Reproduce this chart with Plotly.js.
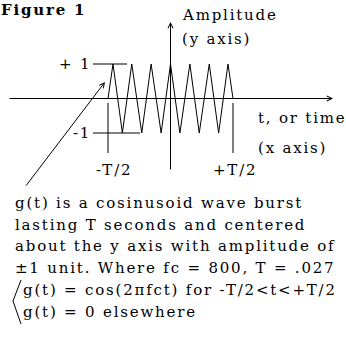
<!DOCTYPE html>
<html>
<head>
<meta charset="utf-8">
<script src="https://cdn.plot.ly/plotly-3.0.1.min.js"></script>
<style>
  html, body { margin: 0; padding: 0; background: #fff; }
  #chart { width: 346px; height: 345px; }
  /* the original lettering is a wide bitmap face; spread the glyphs a little.
     kept global so plotly's text tester measures the same width */
  .annotation-text { letter-spacing: 1.8px; }
</style>
</head>
<body>
<div id="chart"></div>
<script>
// g(t): cosine burst, t in units of T/2, peaks and troughs
const waveT = [-1, -0.92, -0.77, -0.62, -0.46, -0.31, -0.15, 0, 0.15, 0.31, 0.46, 0.62, 0.77, 0.92, 1];
const waveAmp = [0, 1, -1, 1, -1, 1, -1, 1, -1, 1, -1, 1, -1, 1, 0];

// amplitude marks left of the burst
const levelValues = [1, -1];
const levelLabels = ['+ 1', '-1'];

// burst edges
const edgeValues = [-1, 1];
const edgeLabels = ['-T/2', '+T/2'];

const noteLines = [
    'g(t) is a cosinusoid wave burst',
    'lasting T seconds and centered',
    'about the y axis with amplitude of',
    '±1 unit. Where fc = 800, T = .027',
    'g(t) = cos(2πfct) for -T/2&lt;t&lt;+T/2',
    'g(t) = 0 elsewhere'
];

// page is drawn 1:1, so work out data coords from pixel positions
const W = 346, H = 345;
const X0 = 170.5, XS = 62.5;   // t = 0 and pixels per T/2
const Y0 = 98.5, YS = 34.5;    // amplitude 0 and pixels per unit
const tx = p => (p - X0) / XS;
const ay = p => (Y0 - p) / YS;
const px = p => p / W;
const py = p => 1 - p / H;

const FONT = 'DejaVu Serif';
const SIZE = 15;
const black = '#000';

function textNote(text, x, y, xanchor, opts) {
    return Object.assign({
        xref: 'paper', yref: 'paper',
        x: px(x), y: py(y),
        xanchor: xanchor, yanchor: 'middle',
        text: text, showarrow: false,
        font: { family: FONT, size: SIZE, color: black },
        borderpad: 0
    }, opts || {});
}

function arrow(x, y, fromX, fromY) {
    return {
        xref: 'x', yref: 'y', axref: 'x', ayref: 'y',
        x: x, y: y, ax: fromX, ay: fromY,
        text: '', showarrow: true,
        arrowhead: 5, arrowsize: 1, arrowwidth: 1, arrowcolor: black,
        standoff: 0, startstandoff: 0
    };
}

const data = [{
    type: 'scatter',
    mode: 'lines',
    x: waveT,
    y: waveAmp,
    line: { color: black, width: 1 },
    hoverinfo: 'skip'
}];

const shapes = [];
const levelEnd = [127, 140];
levelValues.forEach((v, i) => {
    shapes.push({
        type: 'line', xref: 'x', yref: 'y',
        x0: tx(93), x1: tx(levelEnd[i]), y0: v, y1: v,
        line: { color: black, width: 1 }
    });
});
edgeValues.forEach(v => {
    shapes.push({
        type: 'line', xref: 'x', yref: 'y',
        x0: v, x1: v, y0: ay(103), y1: ay(153),
        line: { color: black, width: 1 }
    });
});
// brace in front of the two definitions
shapes.push({
    type: 'path', xref: 'paper', yref: 'paper',
    path: 'M' + px(21) + ',' + py(280) + ' L' + px(13) + ',' + py(301) + ' L' + px(21) + ',' + py(324),
    line: { color: black, width: 1 }
});

const annotations = [
    arrow(tx(333), 0, tx(8), 0),
    arrow(0, ay(22), 0, ay(171)),
    arrow(tx(105), ay(82), tx(25), ay(187)),
    textNote('Figure 1', 0, 0, 'left', {
        yanchor: 'top',
        font: { family: FONT, size: SIZE, color: black, weight: 'bold' }
    }),
    textNote('Amplitude', 181, 15, 'left'),
    textNote('(y axis)', 181, 39, 'left'),
    textNote('t, or time', 257, 118, 'left'),
    textNote('(x axis)', 257, 148, 'left')
];

levelValues.forEach((v, i) => {
    annotations.push({
        xref: 'x', yref: 'y', x: tx(92), y: v,
        xanchor: 'right', yanchor: 'middle',
        text: levelLabels[i], showarrow: false, borderpad: 0,
        font: { family: FONT, size: SIZE, color: black }
    });
});
edgeValues.forEach((v, i) => {
    annotations.push({
        xref: 'x', yref: 'y', x: v + (i === 0 ? 0.1 : 0.03), y: ay(170),
        xanchor: 'center', yanchor: 'middle',
        text: edgeLabels[i], showarrow: false, borderpad: 0,
        font: { family: FONT, size: SIZE, color: black }
    });
});
noteLines.forEach((line, i) => {
    annotations.push(textNote(line, i < 4 ? 14 : 22, 203 + i * 21.7, 'left'));
});

const layout = {
    width: W,
    height: H,
    margin: { l: 0, r: 0, t: 0, b: 0 },
    paper_bgcolor: '#fff',
    plot_bgcolor: '#fff',
    showlegend: false,
    xaxis: { range: [tx(0), tx(W)], visible: false, fixedrange: true },
    yaxis: { range: [ay(H), ay(0)], visible: false, fixedrange: true },
    shapes: shapes,
    annotations: annotations
};

Plotly.newPlot('chart', data, layout, { displayModeBar: false, staticPlot: true });
</script>
</body>
</html>
